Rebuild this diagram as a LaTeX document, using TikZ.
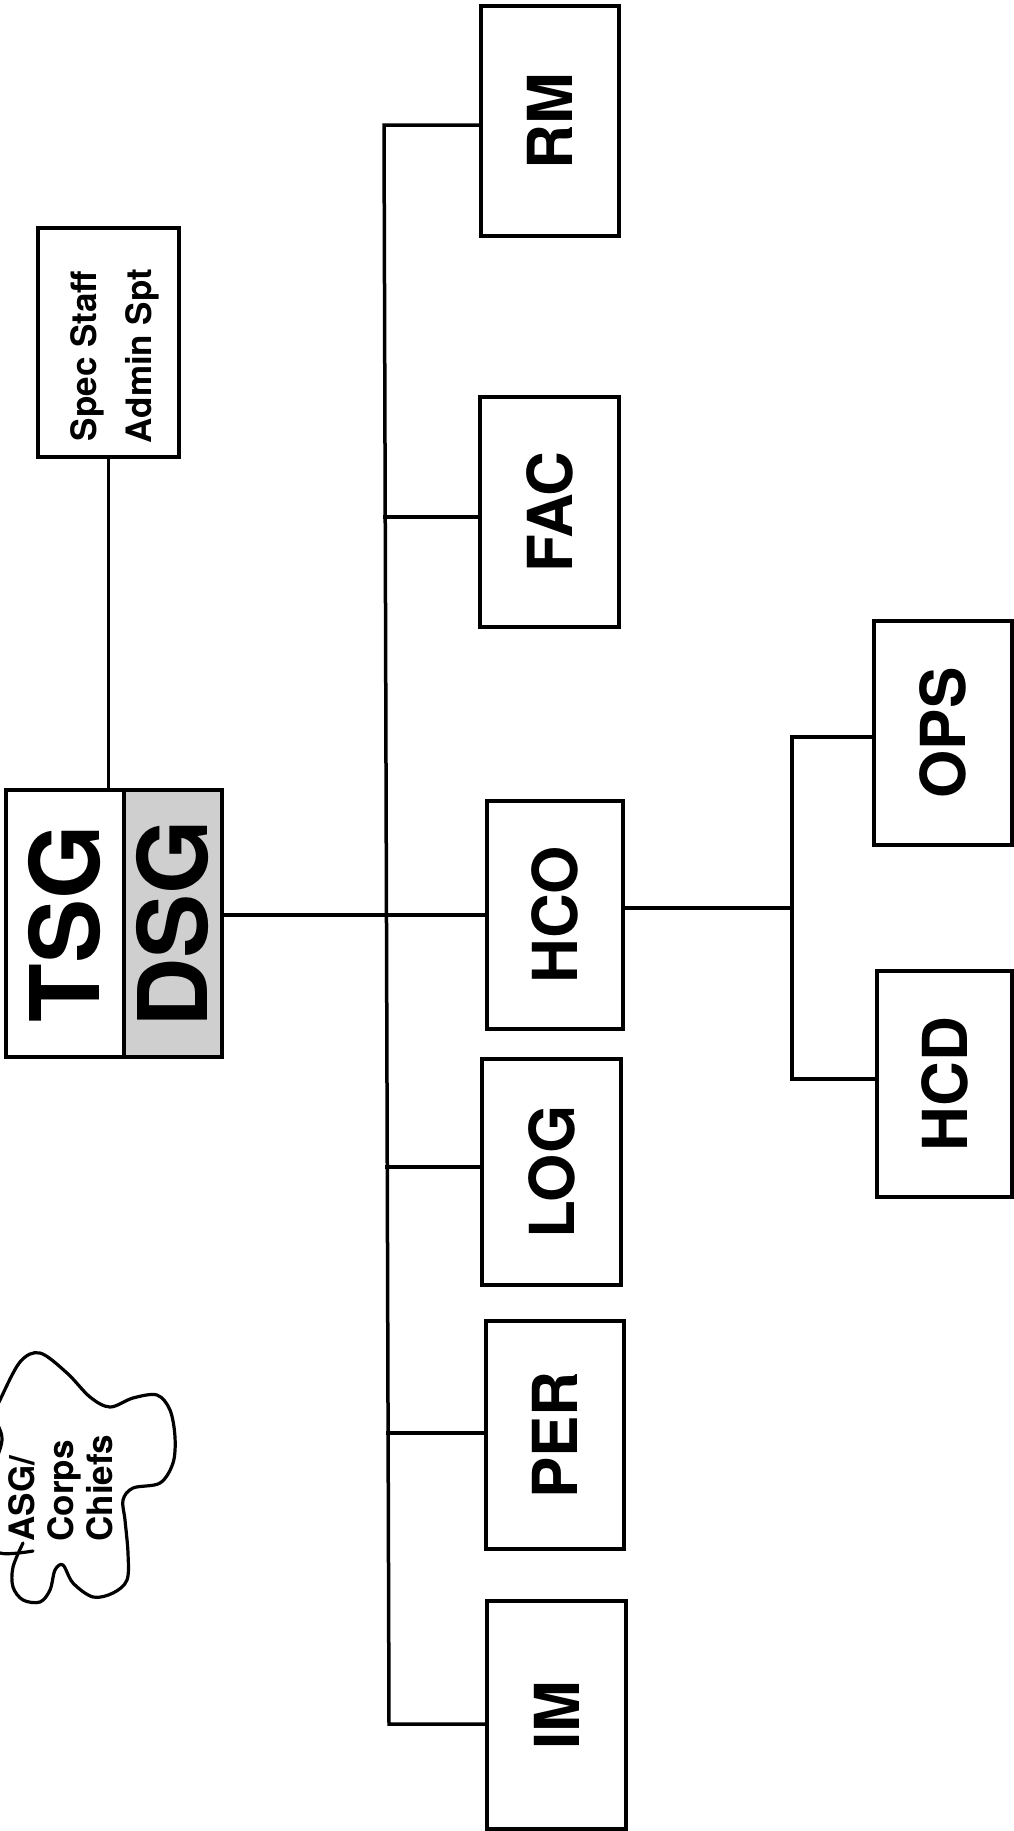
\documentclass[tikz,border=0pt]{standalone}
\usepackage{fontspec}
\setmainfont{TeX Gyre Heros}
\usepackage{graphicx}
\begin{document}
\begin{tikzpicture}[x=1pt,y=-1pt,
  box/.style={draw, line width=3.6pt, rectangle, inner sep=0pt,
    font=\bfseries\fontsize{62}{62}\selectfont},
  big/.style={font=\bfseries\fontsize{96}{96}\selectfont},
  conn/.style={line width=3.5pt, line cap=rect}]
\useasboundingbox (0,0) rectangle (1014,1831);
\begin{scope}
\clip (0,0) rectangle (1014,1831);

% connectors
\coordinate (btop) at (384,125);
\coordinate (bFAC) at (385,517);
\coordinate (bLOG) at (387,1167);
\coordinate (bPER) at (388,1433);
\coordinate (bbot) at (389,1724);
\coordinate (sTop) at (792,737);
\coordinate (sMid) at (792,908);
\coordinate (sBot) at (792,1079);

% boxes
\node[box, minimum width=141pt, minimum height=229pt] (spec) at (108.5,342.5) {};
\node[inner sep=0pt, font=\bfseries\fontsize{35}{55}\selectfont] (specTxt) at (113,356)
  {\rotatebox{90}{\begin{tabular}{@{}c@{}}Spec Staff\\Admin Spt\end{tabular}}};
\node[box, big, minimum width=118pt, minimum height=267pt] (TSG) at (65,923.5) {\rotatebox{90}{TSG}};
\node[box, big, fill=gray!38, minimum width=98pt, minimum height=267pt] (DSG) at (173,923.5) {\rotatebox{90}{DSG}};
\node[box, minimum width=138pt, minimum height=230pt] (RM)  at (550,121)    {\rotatebox{90}{RM}};
\node[box, minimum width=139pt, minimum height=230pt] (FAC) at (549.5,512)  {\rotatebox{90}{FAC}};
\node[box, minimum width=136pt, minimum height=228pt] (HCO) at (555,915)    {\rotatebox{90}{HCO}};
\node[box, minimum width=139pt, minimum height=226pt] (LOG) at (551.5,1172) {\rotatebox{90}{LOG}};
\node[box, minimum width=138pt, minimum height=228pt] (PER) at (555,1435)   {\rotatebox{90}{PER}};
\node[box, minimum width=139pt, minimum height=228pt] (IM)  at (556.5,1715) {\rotatebox{90}{IM}};
\node[box, minimum width=138pt, minimum height=224pt] (OPS) at (943,733)    {\rotatebox{90}{OPS}};
\node[box, minimum width=135pt, minimum height=226pt] (HCD) at (944.5,1084) {\rotatebox{90}{HCD}};

\draw[conn] (spec.south) -- (spec.south |- TSG.north);
\draw[conn] (DSG.east |- HCO.west) -- (HCO.west);
\draw[conn] (btop -| RM.west) -- (btop) -- (bbot) -- (bbot -| IM.west);
\draw[conn] (bFAC) -- (bFAC -| FAC.west);
\draw[conn] (bLOG) -- (bLOG -| LOG.west);
\draw[conn] (bPER) -- (bPER -| PER.west);
\draw[conn] (HCO.east |- sMid) -- (sMid);
\draw[conn] (sTop -| OPS.west) -- (sTop) -- (sBot) -- (sBot -| HCD.west);

% cloud
\draw[line width=3.2pt, line cap=round, line join=round]
  plot[smooth, tension=0.55] coordinates {
   (33,1551) (0,1553) (-15,1535) (-10,1480) (2,1440) (-6,1415) (0,1400)
   (20,1362) (40,1353) (67,1373) (90,1397) (110,1407) (133,1398) (157,1395)
   (170,1410) (175,1437) (173,1463) (160,1483) (133,1488) (123,1500)
   (125,1520) (128,1553) (127,1580) (113,1593) (93,1597) (73,1583)
   (63,1565) (55,1570) (50,1590) (40,1602) (23,1600) (13,1587) (13,1567)
   (23,1543)};
\node[inner sep=0pt, font=\bfseries\fontsize{35}{39}\selectfont] (cloudtxt) at (66,1488)
  {\rotatebox{90}{\begin{tabular}{@{}l@{}}ASG/\\Corps\\Chiefs\end{tabular}}};
\end{scope}
\end{tikzpicture}
\end{document}
